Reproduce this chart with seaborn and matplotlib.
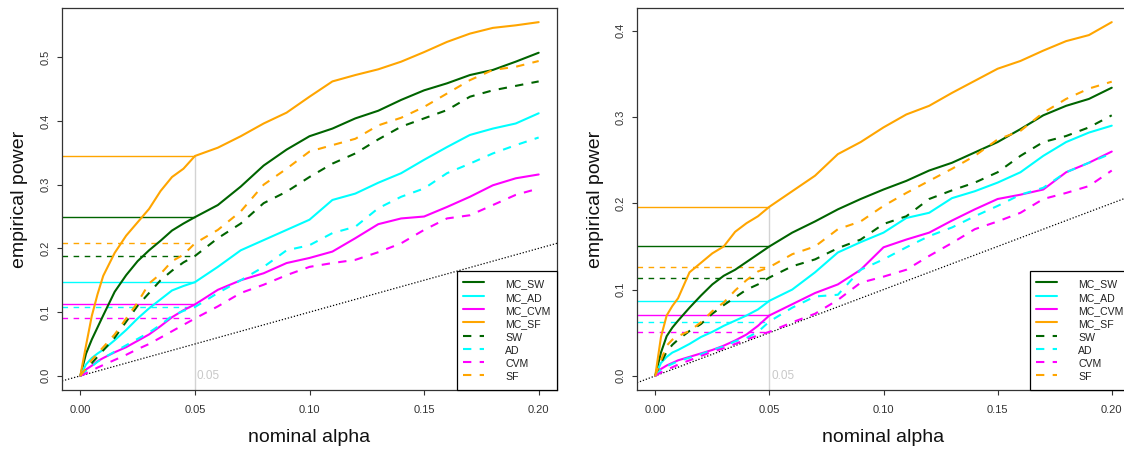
import numpy as np
import pandas as pd
import matplotlib
matplotlib.use("Agg")
import matplotlib.pyplot as plt
import seaborn as sns
from matplotlib.lines import Line2D
from matplotlib.ticker import FormatStrFormatter

# ---------------- data ----------------
alpha = [0, 0.0025, 0.005, 0.0075, 0.01, 0.015, 0.02, 0.025, 0.03, 0.035, 0.04,
         0.045, 0.05, 0.06, 0.07, 0.08, 0.09, 0.10, 0.11, 0.12, 0.13, 0.14, 0.15,
         0.16, 0.17, 0.18, 0.19, 0.20]

tests = ["MC_SW", "MC_AD", "MC_CVM", "MC_SF", "SW", "AD", "CVM", "SF"]

# left panel
left_MC_SW = [0, 0.035, 0.057, 0.076, 0.095, 0.132, 0.158, 0.180, 0.197, 0.212, 0.228, 0.239, 0.249,
              0.268, 0.297, 0.330, 0.355, 0.376, 0.388, 0.404, 0.416, 0.433, 0.448, 0.459, 0.472, 0.480, 0.493, 0.507]
left_MC_AD = [0, 0.018, 0.028, 0.035, 0.041, 0.056, 0.072, 0.090, 0.106, 0.120, 0.134, 0.141, 0.147,
              0.171, 0.197, 0.213, 0.229, 0.245, 0.276, 0.286, 0.303, 0.318, 0.339, 0.359, 0.378, 0.388, 0.396, 0.412]
left_MC_CVM = [0, 0.010, 0.016, 0.023, 0.028, 0.037, 0.045, 0.055, 0.065, 0.078, 0.092, 0.103, 0.112,
               0.135, 0.150, 0.161, 0.177, 0.185, 0.195, 0.216, 0.238, 0.247, 0.250, 0.265, 0.281, 0.299, 0.310, 0.316]
left_MC_SF = [0, 0.048, 0.094, 0.128, 0.157, 0.193, 0.220, 0.241, 0.262, 0.290, 0.312, 0.325, 0.345,
              0.358, 0.376, 0.396, 0.413, 0.438, 0.462, 0.472, 0.481, 0.493, 0.508, 0.524, 0.537, 0.546, 0.550, 0.555]
left_SW = [0, 0.010, 0.020, 0.030, 0.040, 0.060, 0.085, 0.110, 0.130, 0.150, 0.165, 0.178, 0.188,
           0.216, 0.239, 0.271, 0.289, 0.312, 0.333, 0.349, 0.371, 0.391, 0.404, 0.417, 0.438, 0.448, 0.455, 0.462]
left_AD = [0, 0.008, 0.015, 0.022, 0.028, 0.038, 0.048, 0.058, 0.068, 0.080, 0.094, 0.102, 0.108,
           0.130, 0.150, 0.171, 0.197, 0.205, 0.224, 0.234, 0.263, 0.281, 0.294, 0.318, 0.333, 0.349, 0.362, 0.374]
left_CVM = [0, 0.004, 0.008, 0.013, 0.017, 0.025, 0.033, 0.042, 0.050, 0.060, 0.070, 0.080, 0.090,
            0.109, 0.130, 0.143, 0.158, 0.171, 0.177, 0.182, 0.194, 0.208, 0.229, 0.247, 0.252, 0.268, 0.284, 0.294]
left_SF = [0, 0.012, 0.025, 0.035, 0.045, 0.065, 0.090, 0.115, 0.145, 0.160, 0.180, 0.190, 0.208,
           0.229, 0.258, 0.300, 0.325, 0.352, 0.362, 0.372, 0.393, 0.405, 0.422, 0.443, 0.464, 0.480, 0.485, 0.494]

# right panel
right_MC_SW = [0, 0.027, 0.046, 0.056, 0.064, 0.079, 0.093, 0.106, 0.116, 0.123, 0.132, 0.141, 0.150,
               0.166, 0.179, 0.193, 0.205, 0.216, 0.226, 0.238, 0.247, 0.259, 0.271, 0.286, 0.302, 0.313, 0.321, 0.334]
right_MC_AD = [0, 0.015, 0.022, 0.027, 0.030, 0.037, 0.045, 0.051, 0.058, 0.064, 0.070, 0.077, 0.087,
               0.100, 0.120, 0.143, 0.155, 0.166, 0.183, 0.189, 0.206, 0.214, 0.224, 0.236, 0.255, 0.271, 0.282, 0.290]
right_MC_CVM = [0, 0.008, 0.012, 0.015, 0.018, 0.022, 0.026, 0.030, 0.035, 0.041, 0.048, 0.058, 0.070,
                0.083, 0.096, 0.106, 0.123, 0.149, 0.158, 0.166, 0.180, 0.193, 0.205, 0.210, 0.216, 0.236, 0.247, 0.260]
right_MC_SF = [0, 0.045, 0.070, 0.081, 0.090, 0.120, 0.131, 0.142, 0.150, 0.167, 0.177, 0.185, 0.196,
               0.214, 0.232, 0.257, 0.271, 0.288, 0.303, 0.313, 0.328, 0.342, 0.356, 0.365, 0.377, 0.388, 0.395, 0.410]
right_SW = [0, 0.015, 0.028, 0.036, 0.042, 0.052, 0.060, 0.072, 0.082, 0.091, 0.100, 0.106, 0.114,
            0.127, 0.135, 0.148, 0.158, 0.176, 0.185, 0.205, 0.215, 0.224, 0.236, 0.255, 0.271, 0.278, 0.288, 0.302]
right_AD = [0, 0.007, 0.011, 0.014, 0.017, 0.021, 0.025, 0.030, 0.034, 0.040, 0.044, 0.051, 0.063,
            0.079, 0.092, 0.094, 0.123, 0.135, 0.149, 0.162, 0.172, 0.185, 0.197, 0.210, 0.218, 0.236, 0.247, 0.258]
right_CVM = [0, 0.004, 0.007, 0.010, 0.013, 0.018, 0.023, 0.028, 0.032, 0.037, 0.042, 0.047, 0.051,
             0.062, 0.072, 0.088, 0.108, 0.115, 0.123, 0.139, 0.154, 0.170, 0.179, 0.189, 0.205, 0.212, 0.220, 0.238]
right_SF = [0, 0.018, 0.035, 0.042, 0.046, 0.052, 0.062, 0.075, 0.085, 0.099, 0.111, 0.121, 0.126,
            0.141, 0.150, 0.170, 0.179, 0.197, 0.212, 0.226, 0.240, 0.255, 0.274, 0.284, 0.305, 0.321, 0.333, 0.341]

xticks = [0.00, 0.05, 0.10, 0.15, 0.20]
left_yticks = [0.0, 0.1, 0.2, 0.3, 0.4, 0.5]
right_yticks = [0.0, 0.1, 0.2, 0.3, 0.4]
ref_alpha = 0.05

left_data = dict(zip(tests, [left_MC_SW, left_MC_AD, left_MC_CVM, left_MC_SF,
                             left_SW, left_AD, left_CVM, left_SF]))
right_data = dict(zip(tests, [right_MC_SW, right_MC_AD, right_MC_CVM, right_MC_SF,
                              right_SW, right_AD, right_CVM, right_SF]))

# ---------------- styling ----------------
sns.set_style("white")
plt.rcParams["font.family"] = ["Liberation Sans", "DejaVu Sans"]

col = {"SW": "#006400", "AD": "#00FFFF", "CVM": "#FF00FF", "SF": "#FFA500"}
palette = {t: col[t.replace("MC_", "")] for t in tests}
dashes = {t: ("" if t.startswith("MC_") else (4, 4)) for t in tests}

W, H = 1124, 451
fig = plt.figure(figsize=(W / 100, H / 100), dpi=100)


def px_axes(x0, y0, x1, y1):
    return fig.add_axes([x0 / W, 1 - y1 / H, (x1 - x0) / W, (y1 - y0) / H])


def draw(ax, data, yticks):
    n = len(alpha)
    df = pd.DataFrame({
        "alpha": np.tile(alpha, len(tests)),
        "power": np.concatenate([data[t] for t in tests]),
        "test": np.repeat(tests, n),
    })
    allmax = max(max(v) for v in data.values())
    xr = (min(alpha), max(alpha))
    xpad = 0.04 * (xr[1] - xr[0])
    ypad = 0.04 * allmax
    xlim = (xr[0] - xpad, xr[1] + xpad)
    ylim = (-ypad, allmax + ypad)

    # reference lines at nominal alpha 0.05
    i05 = alpha.index(ref_alpha)
    vals05 = {t: data[t][i05] for t in tests}
    ax.vlines(ref_alpha, ylim[0], max(vals05.values()), color="#d3d3d3", lw=1, zorder=1)
    for t in tests:
        ls = "-" if t.startswith("MC_") else (0, (4, 4))
        ax.hlines(vals05[t], xlim[0], ref_alpha, color=palette[t], lw=1,
                  linestyles=[ls], zorder=1)

    # y = x diagonal
    ax.plot(xlim, xlim, color="black", lw=0.9, ls=(0, (1, 1.5)), zorder=1)

    sns.lineplot(data=df, x="alpha", y="power", hue="test", style="test",
                 hue_order=tests, style_order=tests, palette=palette,
                 dashes=dashes, linewidth=1.5, estimator=None, sort=False,
                 legend=False, ax=ax, zorder=3)

    ax.text(ref_alpha + 0.0008, 0, "0.05", color="#c8c8c8", fontsize=8.5,
            ha="left", va="center")

    ax.set_xlim(xlim)
    ax.set_ylim(ylim)
    ax.set_xticks(xticks)
    ax.set_yticks(yticks)
    ax.xaxis.set_major_formatter(FormatStrFormatter("%.2f"))
    ax.yaxis.set_major_formatter(FormatStrFormatter("%.1f"))
    ax.tick_params(axis="both", direction="out", length=3.5, width=0.8,
                   color="#333333", labelcolor="#333333", labelsize=8,
                   bottom=True, left=True)
    ax.tick_params(axis="x", pad=7.5)
    ax.tick_params(axis="y", pad=5, labelrotation=90)
    for lab in ax.get_yticklabels():
        lab.set_va("center")
    for s in ax.spines.values():
        s.set_color("#333333")
        s.set_linewidth(0.9)

    ax.set_xlabel("nominal alpha", fontsize=14, color="#111111", va="center")
    ax.set_ylabel("empirical power", fontsize=14, color="#111111", va="center")
    bb = ax.get_position()
    wpx, hpx = bb.width * W, bb.height * H
    ax.xaxis.set_label_coords(0.5, -47 / hpx)
    ax.yaxis.set_label_coords(-42 / wpx, 0.5)

    handles = [Line2D([], [], color=palette[t], lw=1.5,
                      ls="-" if t.startswith("MC_") else (0, (4, 4)))
               for t in tests]
    leg = ax.legend(handles, tests, loc="lower right", bbox_to_anchor=(1, 0),
                    borderaxespad=0, fontsize=7.6, handlelength=2.0,
                    handleheight=1.56, handletextpad=2.0, labelspacing=0.0,
                    borderpad=0.6, fancybox=False, framealpha=1,
                    edgecolor="black")
    leg.get_frame().set_linewidth(0.9)
    for txt in leg.get_texts():
        txt.set_color("#222222")


axL = px_axes(62, 8, 557, 390)
draw(axL, left_data, left_yticks)
axR = px_axes(637, 8, 1130, 390)
draw(axR, right_data, right_yticks)

fig.savefig("out.png", dpi=100)
